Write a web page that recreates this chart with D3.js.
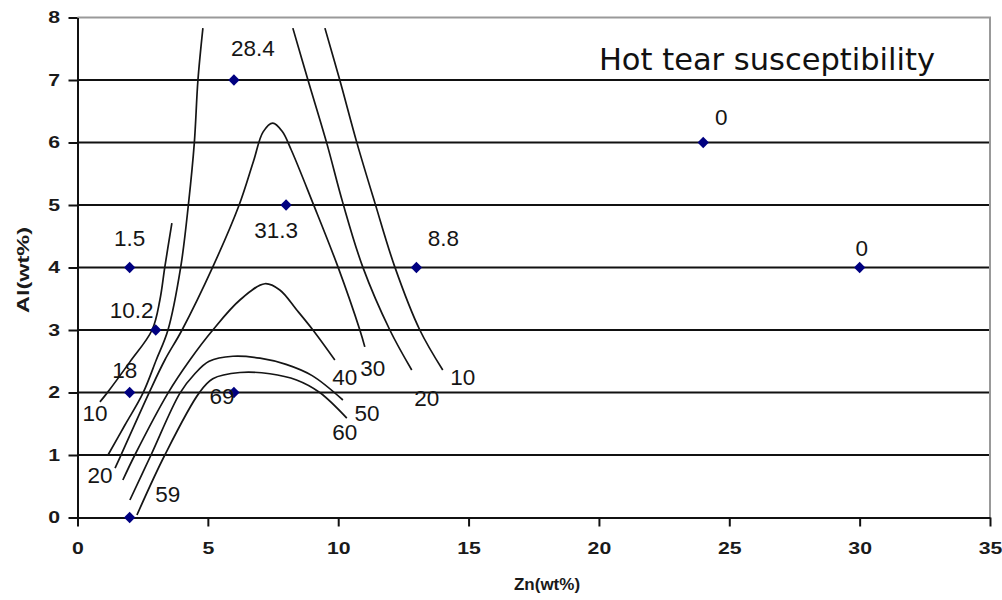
<!DOCTYPE html>
<html>
<head>
<meta charset="UTF-8">
<title>Hot tear susceptibility</title>
<script src="https://cdnjs.cloudflare.com/ajax/libs/d3/7.8.5/d3.min.js"></script>
<style type="text/css">
	body{
		margin: 0;
		background-color: white;
	}
	svg{
		display: block;
	}
	.tick text{
		font-family: "Liberation Sans", Arial, sans-serif;
		font-weight: bold;
		font-size: 17px;
		fill: #1a1a1a;
	}
	.lbl{
		font-family: "Liberation Sans", Arial, sans-serif;
		font-size: 22.5px;
		fill: #151515;
	}
</style>
</head>
<body>
<script>
// measured points: Zn, Al and hot tear value
var znValues = [2, 6, 8, 13, 24, 30, 3, 2, 6, 2];
var alValues = [4, 7, 5, 4, 6, 4, 3, 2, 2, 0];
var hotTear = ["1.5", "28.4", "31.3", "8.8", "0", "0", "10.2", "18", "69", "59"];

// contour lines as [Zn, Al] (labelled end is the last one)
var contour10a = [[3.62,4.71],[3.35,4.01],[3.16,3.48],[2.86,3.00],[2.01,2.49],[1.13,1.99],[0.86,1.85]];
var contour20a = [[4.81,7.83],[4.62,7.00],[4.48,5.99],[4.26,5.03],[3.96,4.01],[3.47,3.00],[3.02,2.52],[2.51,1.99],[1.82,1.48],[1.17,1.00]];
var contour30 = [[1.44,0.79],[1.67,1.00],[2.74,1.99],[3.35,2.52],[4.01,3.00],[5.19,4.01],[6.20,5.00],[6.75,5.70],[7.12,6.17],[7.49,6.31],[7.85,6.18],[8.20,5.88],[9.03,5.03],[9.99,4.01],[10.83,3.00],[11.02,2.73]];
var contour40 = [[1.74,0.60],[2.20,1.00],[3.47,1.99],[4.31,2.52],[5.19,3.00],[6.23,3.48],[7.19,3.74],[7.76,3.64],[8.41,3.32],[9.03,3.00],[9.87,2.52]];
var contour50 = [[2.01,0.28],[2.82,1.00],[3.93,1.99],[4.50,2.30],[5.05,2.50],[5.96,2.58],[7.00,2.55],[8.00,2.45],[9.00,2.27],[10.18,1.88]];
var contour60 = [[2.28,0.04],[3.35,1.00],[4.66,1.99],[5.19,2.22],[6.23,2.32],[7.38,2.30],[8.40,2.20],[9.29,2.00],[10.33,1.59]];
var contour20b = [[8.26,7.83],[8.84,7.00],[9.56,5.99],[10.18,5.03],[10.94,4.01],[11.98,3.00],[12.82,2.36]];
var contour10b = [[9.49,7.83],[10.06,7.00],[10.72,5.99],[11.41,5.03],[12.17,4.01],[13.13,3.00],[14.01,2.36]];
var contourLevels = ["10", "20", "30", "40", "50", "60", "20", "10"];

var xTicks = [0, 5, 10, 15, 20, 25, 30, 35];
var yTicks = [0, 1, 2, 3, 4, 5, 6, 7, 8];

// label placement in pixels, relative to the point / line end
var pointLabelShift = [[0,-30],[19,-32],[-10,25],[27,-30],[18,-26],[2,-20],[-24,-20],[-5,-23],[-12,3],[38,-24]];
var contourLabelShift = [[-5,11],[-8,20],[8,21],[10,17],[24,13],[-2,14],[15,28],[20,7]];

var width = 1002;
var height = 600;
var margin = {top: 17.5, right: 12, bottom: 82.5, left: 77.5};
var plotW = width - margin.left - margin.right;
var plotH = height - margin.top - margin.bottom;

var canvas = d3.select("body").append("svg")
	.attr("width", width)
	.attr("height", height);

var group = canvas.append("g")
	.attr("transform", "translate(" + margin.left + "," + margin.top + ")");

var x = d3.scaleLinear().domain([0, 35]).range([0, plotW]);
var y = d3.scaleLinear().domain([0, 8]).range([plotH, 0]);

// grid lines
group.selectAll(".grid")
	.data(yTicks.slice(1, 8))
	.enter()
	.append("line")
	.attr("x1", 0)
	.attr("x2", plotW)
	.attr("y1", function(d){ return y(d); })
	.attr("y2", function(d){ return y(d); })
	.attr("stroke", "#111")
	.attr("stroke-width", 2);

// top and right frame
group.append("path")
	.attr("d", "M0," + y(8) + "H" + x(35) + "V" + y(0))
	.attr("fill", "none")
	.attr("stroke", "#999")
	.attr("stroke-width", 2);

var xAxis = group.append("g")
	.attr("transform", "translate(0," + plotH + ")")
	.call(d3.axisBottom(x).tickValues(xTicks).tickSize(9).tickSizeOuter(0).tickPadding(15));

var yAxis = group.append("g")
	.call(d3.axisLeft(y).tickValues(yTicks).tickSize(9).tickSizeOuter(0).tickPadding(8));

[xAxis, yAxis].forEach(function(a){
	a.select(".domain").attr("stroke", "#111").attr("stroke-width", 2);
	a.selectAll(".tick line").attr("stroke", "#111").attr("stroke-width", 2);
});
xAxis.selectAll(".tick text").attr("transform", "scale(1.25,1)");
yAxis.selectAll(".tick text").attr("x", -14).attr("transform", "scale(1.25,1)");

// axis titles
canvas.append("text")
	.attr("x", 547)
	.attr("y", 590)
	.attr("text-anchor", "middle")
	.attr("font-family", "Liberation Sans, Arial, sans-serif")
	.attr("font-weight", "bold")
	.attr("font-size", "17px")
	.attr("fill", "#1a1a1a")
	.text("Zn(wt%)");

canvas.append("text")
	.attr("transform", "translate(29,270) rotate(-90)")
	.attr("text-anchor", "middle")
	.attr("font-family", "Liberation Sans, Arial, sans-serif")
	.attr("font-weight", "bold")
	.attr("font-size", "16px")
	.attr("fill", "#1a1a1a")
	.attr("textLength", 86)
	.attr("lengthAdjust", "spacingAndGlyphs")
	.text("Al(wt%)");

// contours
var contours = [contour10a, contour20a, contour30, contour40, contour50, contour60, contour20b, contour10b];
var line = d3.line()
	.x(function(d){ return x(d[0]); })
	.y(function(d){ return y(d[1]); })
	.curve(d3.curveCatmullRom.alpha(0.5));

group.selectAll(".contour")
	.data(contours)
	.enter()
	.append("path")
	.attr("class", "contour")
	.attr("d", line)
	.attr("fill", "none")
	.attr("stroke", "#151515")
	.attr("stroke-width", 1.7);

group.selectAll(".clabel")
	.data(contours)
	.enter()
	.append("text")
	.attr("class", "lbl")
	.attr("text-anchor", "middle")
	.attr("dy", "0.36em")
	.attr("x", function(d, i){ return x(d[d.length-1][0]) + contourLabelShift[i][0]; })
	.attr("y", function(d, i){ return y(d[d.length-1][1]) + contourLabelShift[i][1]; })
	.text(function(d, i){ return contourLevels[i]; });

// points
group.selectAll(".pt")
	.data(znValues)
	.enter()
	.append("path")
	.attr("class", "pt")
	.attr("d", d3.symbol().type(d3.symbolSquare).size(64))
	.attr("transform", function(d, i){
		return "translate(" + x(d) + "," + y(alValues[i]) + ") rotate(45)";
	})
	.attr("fill", "#000080");

group.selectAll(".plabel")
	.data(hotTear)
	.enter()
	.append("text")
	.attr("class", "lbl")
	.attr("text-anchor", "middle")
	.attr("dy", "0.36em")
	.attr("x", function(d, i){ return x(znValues[i]) + pointLabelShift[i][0]; })
	.attr("y", function(d, i){ return y(alValues[i]) + pointLabelShift[i][1]; })
	.text(function(d){ return d; });

// title inside the plot
canvas.append("text")
	.attr("x", 767)
	.attr("y", 70)
	.attr("text-anchor", "middle")
	.attr("font-family", "DejaVu Sans, sans-serif")
	.attr("font-size", "30.5px")
	.attr("fill", "#111")
	.text("Hot tear susceptibility");
</script>
</body>
</html>
